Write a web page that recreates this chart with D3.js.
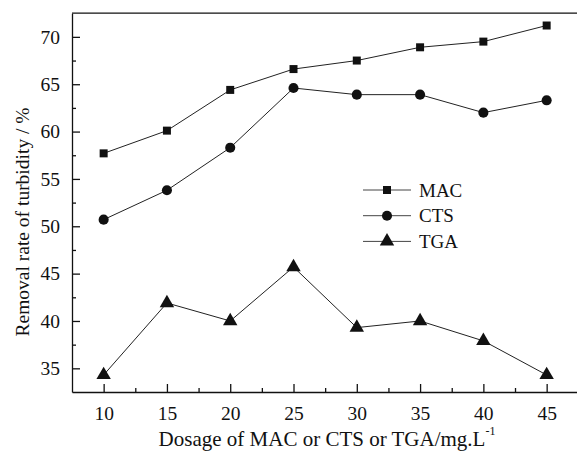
<!DOCTYPE html>
<html>
<head>
<meta charset="utf-8">
<script src="https://cdn.jsdelivr.net/npm/d3@7"></script>
<style>
  body { margin: 0; background: #fff; }
  svg { display: block; font-family: "Liberation Serif", "Times New Roman", serif; }
</style>
</head>
<body>
<svg id="chart" width="577" height="451"></svg>
<script>
(function () {
    // values
    const dosage = [10, 15, 20, 25, 30, 35, 40, 45];
    const mac = [57.7, 60.1, 64.4, 66.6, 67.5, 68.9, 69.5, 71.2];
    const cts = [50.7, 53.8, 58.3, 64.6, 63.9, 63.9, 62.0, 63.3];
    const tga = [34.3, 41.9, 40.0, 45.7, 39.3, 40.0, 37.9, 34.3];
    const seriesNames = ["MAC", "CTS", "TGA"];
    const xTicks = [10, 15, 20, 25, 30, 35, 40, 45];
    const yTicks = [35, 40, 45, 50, 55, 60, 65, 70];

    const svg = d3.select("#chart");
    const left = 72, right = 578.3, top = 13.2, bottom = 392;

    const x = d3.scaleLinear().domain([7.5, 47.5]).range([left, right]);
    const y = d3.scaleLinear().domain([32.5, 72.5]).range([bottom, top]);

    // minor ticks (inward, short)
    const xMinor = d3.range(12.5, 47.5, 5);
    const yMinor = d3.range(37.5, 72.5, 5);

    svg.append("g")
        .attr("transform", `translate(0,${bottom})`)
        .call(d3.axisBottom(x).tickValues(xMinor).tickSize(-4).tickFormat(""))
        .call(g => g.select(".domain").remove());
    svg.append("g")
        .attr("transform", `translate(${left},0)`)
        .call(d3.axisLeft(y).tickValues(yMinor).tickSize(-4).tickFormat(""))
        .call(g => g.select(".domain").remove());

    // major axes
    svg.append("g")
        .attr("transform", `translate(0,${bottom})`)
        .call(d3.axisBottom(x).tickValues(xTicks).tickSizeInner(-8).tickSizeOuter(0).tickPadding(14))
        .attr("font-family", "'Liberation Serif', serif")
        .attr("font-size", 19.5);
    svg.append("g")
        .attr("transform", `translate(${left},0)`)
        .call(d3.axisLeft(y).tickValues(yTicks).tickSizeInner(-8).tickSizeOuter(0).tickPadding(12))
        .attr("font-family", "'Liberation Serif', serif")
        .attr("font-size", 19.5);

    svg.selectAll(".tick text").attr("fill", "#111");
    svg.selectAll(".domain, .tick line").attr("stroke", "#111").attr("stroke-width", 1.3);

    // top border
    svg.append("line")
        .attr("x1", left).attr("x2", right)
        .attr("y1", top).attr("y2", top)
        .attr("stroke", "#111").attr("stroke-width", 1.3);

    const data = [mac, cts, tga];
    const symbols = [d3.symbolSquare, d3.symbolCircle, d3.symbolTriangle];
    const sizes = [64, 80, 90];

    const line = d3.line()
        .x((d, i) => x(dosage[i]))
        .y(d => y(d));

    data.forEach((vals, s) => {
        svg.append("path")
            .datum(vals)
            .attr("d", line)
            .attr("fill", "none")
            .attr("stroke", "#222")
            .attr("stroke-width", 1);

        svg.append("g")
            .selectAll("path")
            .data(vals)
            .enter()
            .append("path")
            .attr("transform", (d, i) => `translate(${x(dosage[i])},${y(d)})`)
            .attr("d", d3.symbol().type(symbols[s]).size(sizes[s]))
            .attr("fill", "#111");
    });

    // legend
    const legend = svg.append("g").attr("transform", "translate(363,190)");
    seriesNames.forEach((name, s) => {
        const row = legend.append("g").attr("transform", `translate(0,${s * 25.7})`);
        row.append("line")
            .attr("x1", 0).attr("x2", 48)
            .attr("stroke", "#444").attr("stroke-width", 1);
        row.append("path")
            .attr("transform", "translate(24,0)")
            .attr("d", d3.symbol().type(symbols[s]).size(sizes[s]))
            .attr("fill", "#111");
        row.append("text")
            .attr("x", 56)
            .attr("dy", "0.35em")
            .style("font-size", "19px")
            .attr("fill", "#111")
            .text(name);
    });

    // axis titles
    const xTitle = svg.append("text")
        .attr("x", 327)
        .attr("y", 446)
        .attr("text-anchor", "middle")
        .style("font-size", "21px")
        .attr("fill", "#111");
    xTitle.append("tspan").text("Dosage of MAC or CTS or TGA/mg.L");
    xTitle.append("tspan")
        .attr("dy", -11)
        .style("font-size", "12px")
        .text("-1");

    svg.append("text")
        .attr("transform", "translate(29,222) rotate(-90)")
        .attr("text-anchor", "middle")
        .style("font-size", "19.5px")
        .attr("fill", "#111")
        .text("Removal rate of turbidity / %");
})();
</script>
</body>
</html>
